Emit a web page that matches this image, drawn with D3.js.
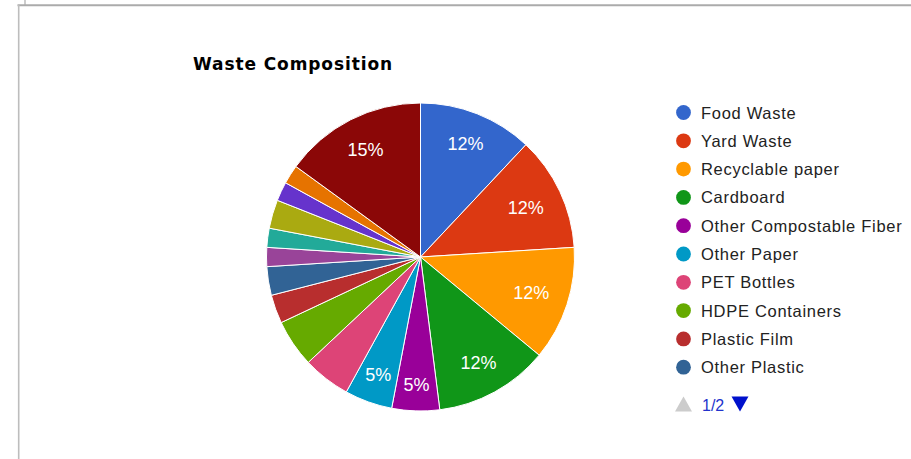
<!DOCTYPE html>
<html>
<head>
<meta charset="utf-8">
<script src="https://cdn.jsdelivr.net/npm/d3@7"></script>
<style>
  html, body { margin: 0; padding: 0; background: #fff; }
  svg { display: block; }
</style>
</head>
<body>
<svg id="chart" width="911" height="459"></svg>
<script>
// Waste composition shares (percent of total), in drawing order
const categories = [
  "Food Waste", "Yard Waste", "Recyclable paper", "Cardboard",
  "Other Compostable Fiber", "Other Paper", "PET Bottles", "HDPE Containers",
  "Plastic Film", "Other Plastic", "Glass", "Metals",
  "Textiles", "Electronics", "Hazardous Waste", "Mixed Residue"
];
const shares = [12, 12, 12, 12, 5, 5, 5, 5, 3, 3, 2, 2, 3, 2, 2, 15];
const sliceColors = [
  "#3366cc", "#dc3912", "#ff9900", "#109618", "#990099", "#0099c6",
  "#dd4477", "#66aa00", "#b82e2e", "#316395", "#994499", "#22aa99",
  "#aaaa11", "#6633cc", "#e67300", "#8b0707"
];
// Slices that carry an in-slice percentage label
const labelledSlices = [
  "Food Waste", "Yard Waste", "Recyclable paper", "Cardboard",
  "Other Compostable Fiber", "Other Paper", "Mixed Residue"
];
const legendPageSize = 10;
const legendPage = 1;

const svg = d3.select("#chart");
const W = 911, H = 459;

// frame lines along the top and left
svg.append("line").attr("x1", 25).attr("y1", 0).attr("x2", 25).attr("y2", 5)
  .attr("stroke", "#bcbcbc").attr("stroke-width", 1.5);
svg.append("line").attr("x1", 17.5).attr("y1", 5.2).attr("x2", W).attr("y2", 5.2)
  .attr("stroke", "#ababab").attr("stroke-width", 2);
svg.append("line").attr("x1", 18.7).attr("y1", 5).attr("x2", 18.7).attr("y2", H)
  .attr("stroke", "#bdbdbd").attr("stroke-width", 1.6);

// title
svg.append("text")
  .attr("x", 193).attr("y", 69.5)
  .attr("font-family", "'DejaVu Sans', sans-serif")
  .attr("font-weight", "bold")
  .attr("font-size", 17)
  .attr("letter-spacing", 0.9)
  .attr("fill", "#000")
  .text("Waste Composition");

// pie
const cx = 420.5, cy = 257, R = 154;
const data = categories.map((c, i) => ({ name: c, value: shares[i], color: sliceColors[i] }));
const total = d3.sum(shares);
const pie = d3.pie().sort(null).value(d => d.value);
const arcs = pie(data);
const arc = d3.arc().innerRadius(0).outerRadius(R);

const g = svg.append("g").attr("transform", `translate(${cx},${cy})`);
g.selectAll("path.slice")
  .data(arcs)
  .join("path")
  .attr("class", "slice")
  .attr("d", arc)
  .attr("fill", d => d.data.color)
  .attr("stroke", "#fff")
  .attr("stroke-width", 1);

// percentage labels: the label box is pushed out along the bisector until
// its outer corner reaches a fixed fraction of the radius
const labelFont = 18, capH = 13;
const labels = g.selectAll("text.pct")
  .data(arcs.filter(d => labelledSlices.includes(d.data.name)))
  .join("text")
  .attr("class", "pct")
  .attr("font-family", "'Liberation Sans', Arial, sans-serif")
  .attr("font-size", labelFont)
  .attr("fill", "#fff")
  .attr("text-anchor", "middle")
  .text(d => d3.format(".0%")(d.data.value / total));

labels.each(function(d) {
  const w = this.getComputedTextLength();
  const m = (d.startAngle + d.endAngle) / 2;
  const sx = Math.sin(m), sy = -Math.cos(m);
  const target = R * 0.88;
  let lo = 0, hi = R;
  for (let k = 0; k < 40; k++) {
    const mid = (lo + hi) / 2;
    const px = mid * sx + Math.sign(sx) * w / 2;
    const py = mid * sy + Math.sign(sy) * capH / 2;
    if (Math.hypot(px, py) > target) hi = mid; else lo = mid;
  }
  const dd = lo;
  d3.select(this)
    .attr("x", dd * sx)
    .attr("y", dd * sy + capH / 2);
});

// legend (first page)
const legendX = 683.5, legendY0 = 112.5, rowH = 28.3;
const pageItems = data.slice((legendPage - 1) * legendPageSize, legendPage * legendPageSize);
const lg = svg.append("g");
const rows = lg.selectAll("g.row")
  .data(pageItems)
  .join("g")
  .attr("class", "row")
  .attr("transform", (d, i) => `translate(${legendX},${legendY0 + i * rowH})`);
rows.append("circle").attr("r", 7.4).attr("fill", d => d.color);
rows.append("text")
  .attr("x", 17.5).attr("y", 6)
  .attr("font-family", "'Liberation Sans', Arial, sans-serif")
  .attr("font-size", 16.5)
  .attr("letter-spacing", 0.7)
  .attr("fill", "#222")
  .text(d => d.name);

// pager
const pages = Math.ceil(data.length / legendPageSize);
const py0 = 396.5, py1 = 411.5;
svg.append("path")
  .attr("d", `M675,${py1} L683.5,${py0} L692,${py1} Z`)
  .attr("fill", legendPage > 1 ? "#0011cc" : "#cccccc");
svg.append("text")
  .attr("x", 702).attr("y", 410.5)
  .attr("font-family", "'Liberation Sans', Arial, sans-serif")
  .attr("font-size", 16)
  .attr("fill", "#2233cc")
  .text(`${legendPage}/${pages}`);
svg.append("path")
  .attr("d", `M731.5,${py0} L748.5,${py0} L740,${py1} Z`)
  .attr("fill", legendPage < pages ? "#0011cc" : "#cccccc");
</script>
</body>
</html>
